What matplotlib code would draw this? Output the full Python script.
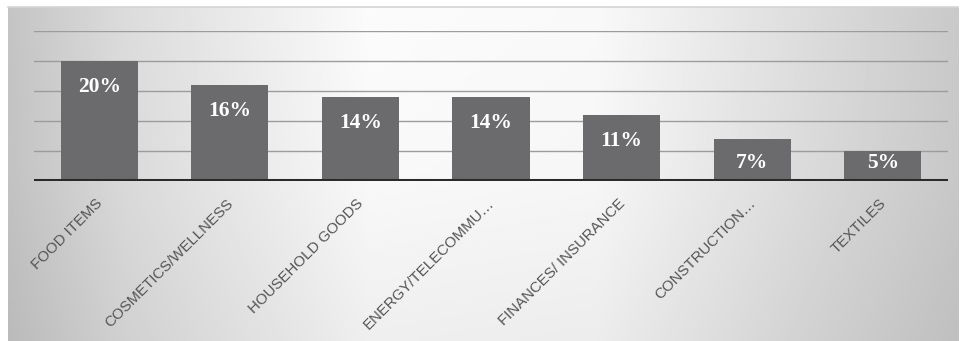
import numpy as np
import matplotlib
matplotlib.use("Agg")
import matplotlib.pyplot as plt
import matplotlib.transforms as mtransforms

# share of complaints per sector (%)
categories = ["FOOD ITEMS", "COSMETICS/WELLNESS", "HOUSEHOLD GOODS",
              "ENERGY/TELECOMMU\u2026", "FINANCES/ INSURANCE",
              "CONSTRUCTION\u2026", "TEXTILES"]
shares = [20, 16, 14, 14, 11, 7, 5]
value_labels = ["20%", "16%", "14%", "14%", "11%", "7%", "5%"]
grid_levels = [5, 10, 15, 20, 25]

W, H = 961, 341
fig = plt.figure(figsize=(W / 100, H / 100), dpi=100)
fig.patch.set_facecolor("white")

# gray-white-gray gradient panel behind the chart
bg = fig.add_axes([8 / W, 0, (958 - 8) / W, (341 - 7) / H])
bg.set_axis_off()
xs = np.linspace(0, 1, 400)
ys = np.linspace(0, 1, 120)
horiz = np.interp(xs, [0, 0.12, 0.38, 0.62, 0.85, 1.0],
                  [0.77, 0.86, 0.985, 0.975, 0.86, 0.79])
vert = np.interp(ys, [0, 0.5, 1.0], [0.95, 0.99, 1.0])
grad = np.clip(np.outer(vert, horiz), 0, 1)
bg.imshow(grad, cmap="gray", vmin=0, vmax=1, aspect="auto",
          origin="lower", extent=[0, 1, 0, 1])
bg.plot([0, 1], [1, 1], color="#d4d4d4", lw=1.2, transform=bg.transAxes,
        clip_on=False)

ax = fig.add_axes([34 / W, 160 / H, (948 - 34) / W, 150 / H])
ax.patch.set_alpha(0)
x = np.arange(len(categories))
ax.set_xlim(-0.5, len(categories) - 0.5)
ax.set_ylim(0, 25)

for g in grid_levels:
    ax.axhline(g, color="#9c9c9c", lw=1.0, zorder=1)

ax.bar(x, shares, width=0.59, color="#6b6b6d", zorder=2)
ax.axhline(0, color="#2a2a2a", lw=2.9, zorder=3)

for xi, v, lab in zip(x, shares, value_labels):
    ax.text(xi, max(v - 4.3, 3.0), lab, ha="center", va="center",
            color="white", fontsize=15.5, fontweight="bold",
            family="Liberation Serif", zorder=4)

for s in ax.spines.values():
    s.set_visible(False)
ax.set_yticks([])
ax.set_xticks(x)
ax.set_xticklabels(categories, rotation=45, ha="right",
                   rotation_mode="anchor", fontsize=10.8,
                   family="Liberation Sans", color="#555555")
ax.tick_params(axis="x", length=0, pad=11)
shift = mtransforms.ScaledTranslation(-4 / 100, 0, fig.dpi_scale_trans)
for lbl in ax.get_xticklabels():
    lbl.set_transform(lbl.get_transform() + shift)

fig.savefig("out.png", dpi=100)
